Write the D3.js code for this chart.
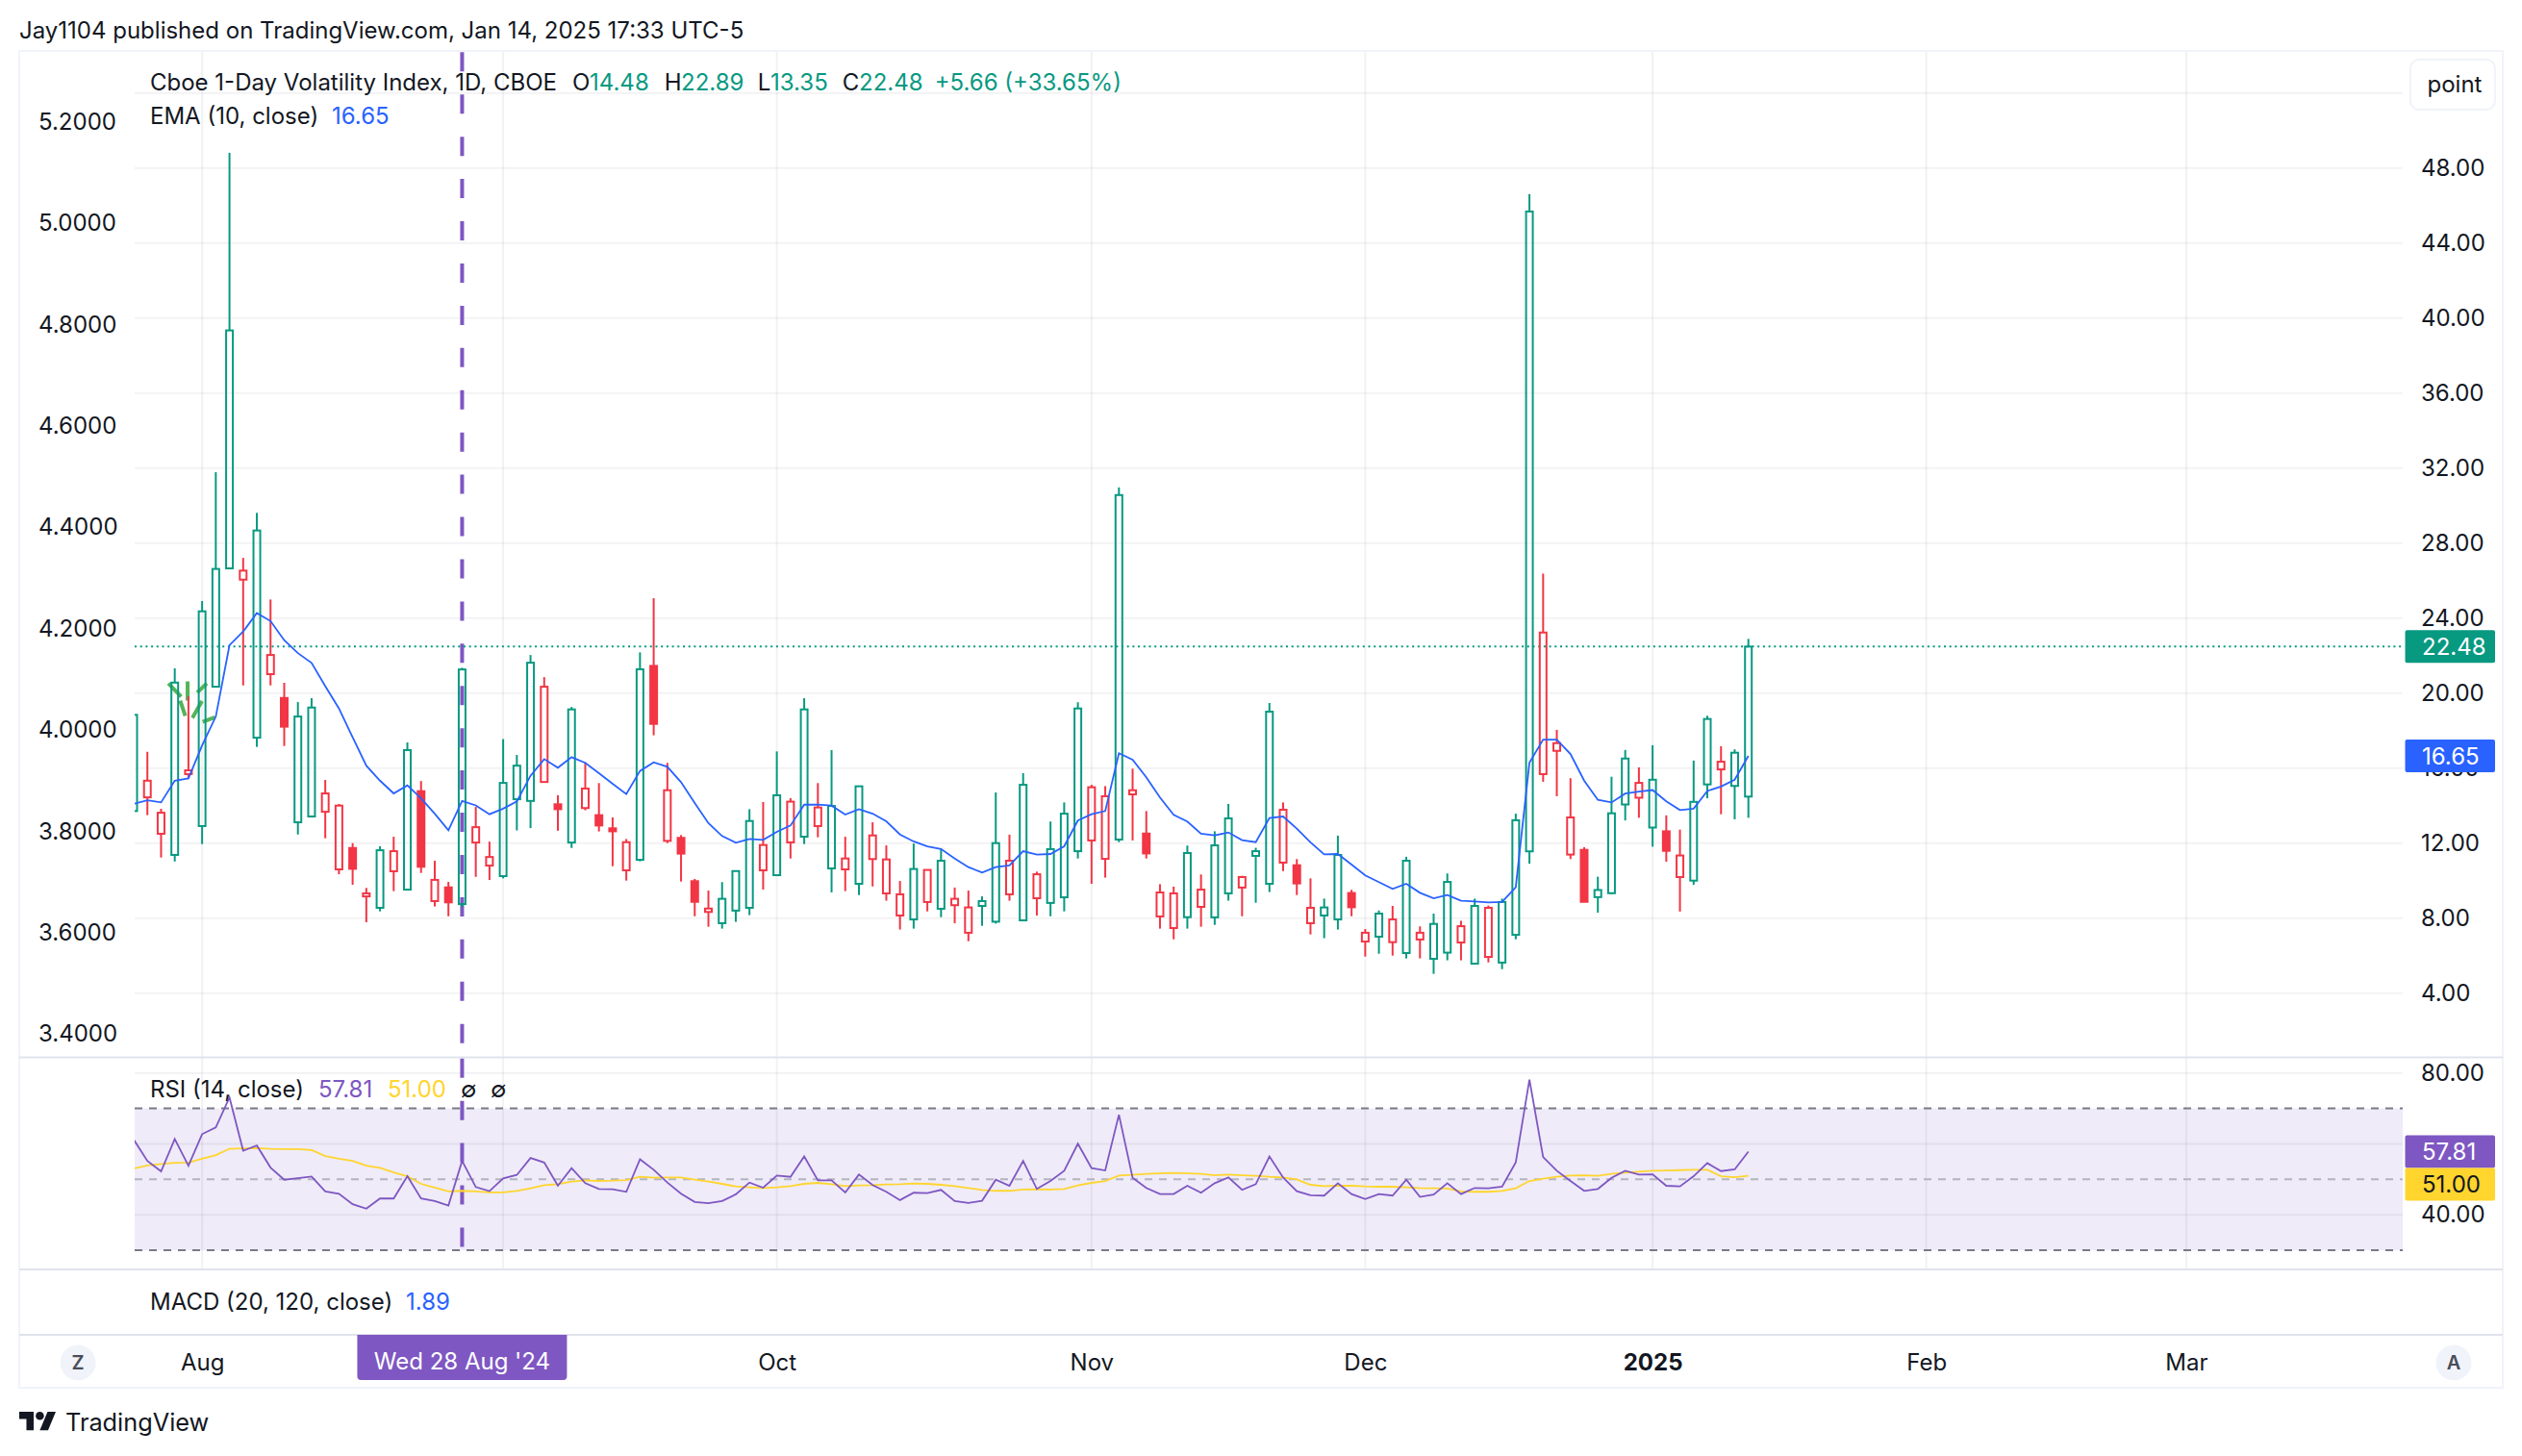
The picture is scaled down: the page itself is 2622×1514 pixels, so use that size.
<!DOCTYPE html>
<html>
<head>
<meta charset="utf-8">
<script src="https://cdn.jsdelivr.net/npm/d3@7"></script>
<style>
  html, body { margin: 0; padding: 0; background: #fff; }
  text { font-family: Inter, "Noto Sans", sans-serif; fill: #131722; }
</style>
</head>
<body>
<svg id="chart" width="2622" height="1514"></svg>
<script>
const opens = [13.71,14.44,12.50,11.37,15.68,12.91,20.34,26.65,26.05,17.62,
  21.01,19.74,13.11,13.42,13.67,10.60,11.74,9.16,8.55,10.50,
  9.52,14.77,8.91,9.64,8.75,12.03,10.80,10.24,14.34,14.25,
  15.26,14.07,12.03,13.87,13.49,12.79,10.55,11.11,21.45,12.12,
  12.28,9.97,8.33,7.73,8.40,8.55,10.55,10.29,12.04,12.34,
  12.91,10.65,10.60,9.83,11.15,9.32,8.14,7.93,8.86,8.50,
  8.69,7.22,8.65,7.81,9.27,7.88,9.06,8.81,9.11,11.57,
  12.14,11.16,12.19,14.60,12.51,8.09,7.47,8.05,8.60,8.04,
  9.32,9.63,11.32,9.83,10.96,10.82,7.73,8.14,7.93,9.34,
  6.75,7.01,6.72,6.14,6.86,5.83,6.16,6.70,5.57,5.93,
  5.63,7.11,11.56,15.68,16.92,11.39,11.64,9.12,9.33,14.06,
  14.42,12.83,12.63,10.19,10.00,15.13,15.93,15.05,14.48];
const highs = [18.90,16.87,13.83,21.32,19.83,24.91,31.78,48.81,27.21,29.61,
  24.99,20.55,19.52,19.73,15.37,14.09,12.00,9.61,11.83,12.34,
  17.37,15.31,11.06,9.93,21.35,13.93,12.08,17.55,16.70,22.03,
  20.85,14.55,19.26,16.31,15.20,13.37,12.22,22.17,25.06,16.28,
  12.43,10.09,9.47,9.92,10.55,13.81,14.19,16.89,14.40,19.73,
  15.20,16.96,12.34,15.03,13.11,11.88,9.98,11.98,10.58,11.69,
  9.63,9.47,9.16,14.70,12.45,15.73,10.48,13.15,14.17,19.51,
  15.11,15.04,30.97,15.97,13.71,9.81,9.68,11.87,10.33,12.63,
  14.09,10.26,11.75,19.47,14.17,11.15,10.12,9.04,12.40,9.51,
  7.42,8.41,8.65,11.27,7.56,8.24,10.38,7.86,9.04,8.67,
  9.04,13.57,46.61,26.37,18.04,15.46,11.78,10.21,15.54,16.97,
  16.04,17.22,13.48,12.72,16.40,18.79,17.17,17.00,22.89];
const lows = [13.70,13.49,11.23,11.02,15.42,11.95,20.34,26.65,20.41,17.13,
  20.41,17.18,12.46,13.42,12.26,10.34,9.78,7.78,8.36,9.44,
  9.52,10.41,8.62,8.10,8.58,10.20,10.03,10.12,12.68,12.80,
  15.26,12.66,11.74,13.75,12.62,10.77,10.00,11.03,17.75,12.00,
  9.95,8.10,7.54,7.44,7.80,8.16,9.52,10.29,11.18,11.95,
  12.31,9.37,9.44,9.23,9.69,8.93,7.39,7.44,8.36,8.05,
  7.73,6.77,7.59,7.71,8.93,7.88,8.14,8.10,8.36,11.18,
  9.83,10.16,12.05,12.14,11.18,7.44,6.87,7.44,7.54,7.64,
  8.93,8.10,8.82,9.39,10.51,9.23,7.13,6.93,7.39,8.10,
  5.95,6.10,6.00,5.85,5.85,5.03,5.75,5.75,5.57,5.64,
  5.28,6.87,10.90,15.27,14.50,11.15,8.87,8.29,9.28,13.21,
  13.35,11.81,11.01,8.35,9.78,14.39,13.54,13.27,13.35];
const closes = [18.84,15.33,13.62,20.56,15.88,24.36,26.62,39.34,26.53,28.67,
  22.03,18.21,18.75,19.23,14.65,14.00,10.63,9.32,11.62,11.57,
  16.96,10.74,10.04,8.84,21.26,12.85,11.26,15.21,16.13,21.62,
  20.34,13.81,19.13,14.91,12.94,12.63,12.05,21.27,18.36,14.82,
  11.44,8.87,8.51,9.03,10.51,13.18,11.90,14.55,14.21,19.13,
  13.90,13.98,11.18,15.03,12.41,11.13,9.27,10.62,10.57,11.06,
  9.03,8.57,8.91,12.00,11.06,15.11,10.34,11.68,13.57,19.18,
  14.98,14.50,30.56,14.82,11.45,9.37,9.32,11.47,9.52,11.88,
  13.32,10.19,11.57,19.01,13.78,9.85,8.55,8.57,11.37,8.58,
  7.22,8.24,7.93,11.06,7.22,7.69,9.93,7.57,8.65,8.55,
  8.86,13.22,45.68,23.23,17.33,13.37,8.87,9.50,13.59,16.51,
  15.21,15.38,11.59,11.34,14.20,18.62,16.34,16.82,22.48];
const ema = [14.09,14.29,14.17,15.33,15.45,17.21,18.75,22.55,23.28,24.27,
  23.84,22.82,22.13,21.61,20.37,19.18,17.64,16.13,15.33,14.65,
  15.08,14.39,13.57,12.68,14.25,14.01,13.54,13.84,14.22,15.59,
  16.48,16.02,16.58,16.28,15.73,15.16,14.62,15.85,16.31,16.07,
  15.25,14.14,13.06,12.38,12.02,12.22,12.17,12.60,12.94,14.05,
  14.05,14.00,13.52,13.81,13.57,13.16,12.46,12.09,11.83,11.69,
  11.18,10.72,10.43,10.72,10.81,11.57,11.39,11.42,11.83,13.20,
  13.54,13.71,16.79,16.45,15.51,14.43,13.51,13.15,12.50,12.41,
  12.57,12.16,12.05,13.34,13.42,12.77,12.04,11.40,11.42,10.86,
  10.28,9.92,9.56,9.83,9.35,9.06,9.23,8.93,8.89,8.84,
  8.86,9.64,16.29,17.52,17.52,16.75,15.33,14.31,14.17,14.64,
  14.75,14.83,14.23,13.76,13.84,14.78,15.02,15.38,16.65];
const rsi = [61.22,55.20,52.24,61.40,53.86,62.75,64.64,73.08,58.08,59.52,
  53.32,49.90,50.35,50.80,46.58,45.95,42.98,41.73,44.60,44.60,
  50.89,44.60,43.88,42.62,55.20,47.83,46.67,50.26,51.25,56.01,
  54.75,48.19,53.14,48.91,47.30,47.21,46.49,55.65,52.69,49.09,
  45.95,43.61,43.25,43.88,45.77,49.09,47.65,51.07,50.71,56.46,
  49.72,49.72,46.31,51.34,48.37,46.49,44.15,46.22,46.13,47.03,
  43.88,43.34,43.97,49.90,48.19,55.20,47.30,49.54,52.42,60.05,
  53.14,52.51,68.23,50.44,47.57,45.86,45.86,48.19,46.22,48.91,
  50.53,47.03,48.64,56.46,50.53,46.67,45.50,45.41,48.91,45.86,
  44.42,45.86,45.41,49.90,45.05,45.68,48.91,45.86,47.57,47.48,
  47.92,54.75,78.11,56.28,52.42,49.54,46.76,47.30,50.44,52.42,
  51.34,51.43,48.19,48.01,50.89,54.57,52.33,52.80,57.81];
const rsiMa = [53.05,53.94,54.30,54.66,54.75,55.83,56.82,58.62,58.71,58.80,
  58.62,58.53,58.53,58.26,56.55,55.83,55.20,53.86,53.23,51.97,
  50.89,48.73,47.65,46.58,46.76,46.58,46.31,46.31,46.76,47.48,
  48.37,48.64,49.36,49.72,49.54,49.63,49.81,50.71,50.44,50.53,
  50.53,49.90,49.36,48.73,48.01,47.75,47.57,47.75,48.10,48.73,
  49.00,48.64,48.10,48.28,48.37,48.55,48.64,48.82,48.73,48.46,
  48.10,47.57,47.03,46.76,46.76,47.12,47.21,47.12,47.30,48.28,
  49.00,49.54,51.07,51.25,51.52,51.70,51.79,51.70,51.52,51.16,
  51.34,51.16,50.98,50.71,50.53,49.99,48.46,48.10,48.19,48.19,
  48.01,47.92,47.92,47.75,47.57,47.48,47.39,46.58,46.49,46.49,
  46.76,47.48,49.54,50.17,50.71,51.07,51.16,50.98,51.52,51.88,
  52.15,52.42,52.51,52.60,52.69,52.69,50.89,50.60,51.00];

// the short green dashes on the left scale: bar index and value at both ends
const leftDashes = [[2.53,4.092,3.47,4.066],[3.40,4.058,3.77,4.028],[3.94,4.096,3.94,4.058],
  [4.29,4.024,4.99,4.057],[4.64,4.074,5.34,4.092],[5.04,4.016,5.93,4.025]];

const priceGrid = [52,48,44,40,36,32,28,24,20,16,12,8,4];
const priceTicks = [48,44,40,36,32,28,24,20,16,12,8,4];
const leftTicks = [5.2,5.0,4.8,4.6,4.4,4.2,4.0,3.8,3.6,3.4];
const rsiGrid = [80,60,40];
const rsiTicks = [80,40];
const rsiBands = [70,30];
const rsiMiddle = 50;
const monthGrid = [5,27,47,70,90,111,131,150];
const monthTicks = [5,47,70,90,111,131,150];
const monthNames = ["Aug","Oct","Nov","Dec","2025","Feb","Mar"];
const markedBar = 24;
const markedLabel = "Wed 28 Aug '24";

const GREEN = "#089981", RED = "#f23645", BLUE = "#2962ff", PURPLE = "#7e57c2", YELLOW = "#ffd52e";
const plotLeft = 140, plotRight = 2498, frameLeft = 20, frameRight = 2602;
const mainTop = 54, mainBottom = 1099, rsiTop = 1099.5, rsiBottom = 1320, macdBottom = 1388, frameBottom = 1443;
const FS = 24;

const svg = d3.select("#chart");
const x = d3.scaleLinear().domain([0,118]).range([139,1817.7]);
const y = d3.scaleLinear().domain([24,4]).range([642.7,1032.7]);
const yLeft = d3.scaleLinear().domain([5.2,3.4]).range([126.7,1075.3]);
const yRsi = d3.scaleLinear().domain([80,40]).range([1115.7,1263.2]);

svg.append("defs").append("clipPath").attr("id","plot")
  .append("rect").attr("x",plotLeft).attr("y",mainTop).attr("width",plotRight-plotLeft).attr("height",rsiBottom-mainTop);

function hLine(g, yv, x1, x2, color, w, dash) {
  return g.append("line").attr("x1",x1).attr("x2",x2).attr("y1",yv).attr("y2",yv)
    .attr("stroke",color).attr("stroke-width",w).attr("stroke-dasharray",dash || null);
}

// grid
const grid = svg.append("g");
grid.append("rect").attr("x",plotLeft).attr("width",plotRight-plotLeft)
  .attr("y",yRsi(rsiBands[0])).attr("height",yRsi(rsiBands[1])-yRsi(rsiBands[0]))
  .attr("fill",PURPLE).attr("fill-opacity",0.12);
priceGrid.forEach(d => hLine(grid, y(d), plotLeft, plotRight, "#f3f3f5", 2));
rsiGrid.forEach(d => hLine(grid, yRsi(d), plotLeft, plotRight, "#787b86", 2).attr("stroke-opacity",0.1));
monthGrid.forEach(d => grid.append("line").attr("x1",x(d)).attr("x2",x(d)).attr("y1",mainTop).attr("y2",rsiBottom)
  .attr("stroke","#787b86").attr("stroke-opacity",0.1).attr("stroke-width",2));

// frame and pane dividers
const frame = svg.append("g");
frame.append("rect").attr("x",frameLeft).attr("y",mainTop-1).attr("width",frameRight-frameLeft).attr("height",frameBottom-mainTop+1)
  .attr("fill","none").attr("stroke","#f0f3fa").attr("stroke-width",2);
[rsiTop,rsiBottom,macdBottom].forEach(d => hLine(frame, d, frameLeft, frameRight, "#e0e3eb", 2));

// rsi bands
rsiBands.forEach(d => hLine(grid, yRsi(d), plotLeft, plotRight, "#787b86", 2, "8 7"));
hLine(grid, yRsi(rsiMiddle), plotLeft, plotRight, "#b2b5be", 2, "8 7");

const clipped = svg.append("g").attr("clip-path","url(#plot)");

// marked date, broken into one run per pane
[[54.3,mainBottom],[1100.7,rsiBottom]].forEach(r => clipped.append("line")
  .attr("x1",x(markedBar)).attr("x2",x(markedBar)).attr("y1",r[0]).attr("y2",r[1])
  .attr("stroke",PURPLE).attr("stroke-width",4).attr("stroke-dasharray","20 23.93"));

// left scale dashes
clipped.selectAll("line.dash").data(leftDashes).enter().append("line").attr("class","dash")
  .attr("x1",d => x(d[0])).attr("y1",d => yLeft(d[1])).attr("x2",d => x(d[2])).attr("y2",d => yLeft(d[3]))
  .attr("stroke","#4caf50").attr("stroke-opacity",0.95).attr("stroke-width",4);

// last price line
hLine(clipped, y(closes[118]), plotLeft, plotRight, GREEN, 2, "2 3.7");

// candles
const bars = closes.map((c,i) => ({i, o:opens[i], h:highs[i], l:lows[i], c,
  color: i === 0 || c >= closes[i-1] ? GREEN : RED, filled: c < opens[i]}));
const candle = clipped.selectAll("g.candle").data(bars).enter().append("g").attr("class","candle");
candle.append("line").attr("x1",d => x(d.i)).attr("x2",d => x(d.i))
  .attr("y1",d => y(d.h)).attr("y2",d => y(Math.max(d.o,d.c)))
  .attr("stroke",d => d.color).attr("stroke-width",2);
candle.append("line").attr("x1",d => x(d.i)).attr("x2",d => x(d.i))
  .attr("y1",d => y(Math.min(d.o,d.c))).attr("y2",d => y(d.l))
  .attr("stroke",d => d.color).attr("stroke-width",2);
candle.append("rect").attr("x",d => x(d.i)-3.5).attr("width",7)
  .attr("y",d => y(Math.max(d.o,d.c))).attr("height",d => y(Math.min(d.o,d.c))-y(Math.max(d.o,d.c)))
  .attr("fill",d => d.filled ? d.color : "none").attr("stroke",d => d.color).attr("stroke-width",2);

// indicator lines
const lineOf = sc => d3.line().x((d,i) => x(i)).y(d => sc(d));
clipped.append("path").attr("d",lineOf(y)(ema)).attr("fill","none").attr("stroke",BLUE).attr("stroke-width",1.8);
clipped.append("path").attr("d",lineOf(yRsi)(rsiMa)).attr("fill","none").attr("stroke",YELLOW).attr("stroke-width",1.8);
clipped.append("path").attr("d",lineOf(yRsi)(rsi)).attr("fill","none").attr("stroke",PURPLE).attr("stroke-width",1.8);

// axes
function styleAxis(g) {
  g.select(".domain").remove();
  g.attr("font-family",null).attr("font-size",null);
  g.selectAll("text").attr("font-size",FS).style("fill","#131722");
}
svg.append("g").attr("transform","translate(2517,0)")
  .call(d3.axisRight(y).tickValues(priceTicks).tickFormat(d3.format(".2f")).tickSize(0).tickPadding(0)).call(styleAxis);
svg.append("g").attr("transform","translate(2517,0)")
  .call(d3.axisRight(yRsi).tickValues(rsiTicks).tickFormat(d3.format(".2f")).tickSize(0).tickPadding(0)).call(styleAxis);
svg.append("g").attr("transform","translate(40,0)")
  .call(d3.axisLeft(yLeft).tickValues(leftTicks).tickFormat(d3.format(".4f")).tickSize(0).tickPadding(0)).call(styleAxis)
  .selectAll("text").attr("text-anchor","start");
svg.append("g").attr("transform","translate(0,1416.5)")
  .call(d3.axisBottom(x).tickValues(monthTicks).tickFormat((d,i) => monthNames[i]).tickSize(0).tickPadding(0)).call(styleAxis)
  .selectAll("text").attr("dy","0.36em").attr("font-weight",d => d === 111 ? 700 : 400);

// price tags
function tag(label, yc, color, textColor) {
  svg.append("rect").attr("x",2500.5).attr("y",yc-17).attr("width",93.5).attr("height",34).attr("rx",2).attr("fill",color);
  svg.append("text").attr("x",2518).attr("y",yc).attr("dy","0.36em").attr("font-size",FS).style("fill",textColor).text(label);
}
tag(closes[118].toFixed(2), y(closes[118]), GREEN, "#fff");
tag(ema[118].toFixed(2), y(ema[118]), BLUE, "#fff");
tag(rsi[118].toFixed(2), yRsi(rsi[118]), PURPLE, "#fff");
tag(rsiMa[118].toFixed(2), yRsi(rsi[118])+34, YELLOW, "#131722");

// marked date label
const mx = x(markedBar);
svg.append("path").attr("d",`M${mx-109},1388H${mx+109}V1431a4,4 0 0 1 -4,4H${mx-105}a4,4 0 0 1 -4,-4Z`).attr("fill",PURPLE);
svg.append("text").attr("x",mx).attr("y",1415.5).attr("dy","0.36em").attr("text-anchor","middle")
  .attr("font-size",FS).style("fill","#fff").text(markedLabel);

// legends
function label(txt, xp, yp, color, size) {
  svg.append("text").attr("x",xp).attr("y",yp).attr("dy","0.36em").attr("font-size",size || FS)
    .style("fill",color || "#131722").text(txt);
}
label("Jay1104 published on TradingView.com, Jan 14, 2025 17:33 UTC-5", 20, 31.5);
label("Cboe 1-Day Volatility Index, 1D, CBOE", 156, 85.5);
label("O", 595, 85.5); label(opens[118].toFixed(2), 613, 85.5, GREEN);
label("H", 690.7, 85.5); label(highs[118].toFixed(2), 708, 85.5, GREEN);
label("L", 787.7, 85.5); label(lows[118].toFixed(2), 801, 85.5, GREEN);
label("C", 875.7, 85.5); label(closes[118].toFixed(2), 893, 85.5, GREEN);
label("+5.66 (+33.65%)", 971.7, 85.5, GREEN);
label("EMA (10, close)", 156, 120); label(ema[118].toFixed(2), 345, 120, BLUE);
label("RSI (14, close)", 156, 1132.2); label(rsi[118].toFixed(2), 331, 1132.2, PURPLE);
label(rsiMa[118].toFixed(2), 403, 1132.2, YELLOW);
label("∅", 479, 1132.2); label("∅", 510, 1132.2);
label("MACD (20, 120, close)", 156, 1353); label("1.89", 422, 1353, BLUE);

// point box
svg.append("rect").attr("x",2506).attr("y",62).attr("width",88).attr("height",52).attr("rx",9)
  .attr("fill","#fff").attr("stroke","#f0f3fa").attr("stroke-width",2);
svg.append("text").attr("x",2552).attr("y",87).attr("dy","0.36em").attr("text-anchor","middle").attr("font-size",FS).text("point");

// Z and A buttons
[[81,"Z"],[2551,"A"]].forEach(d => {
  svg.append("circle").attr("cx",d[0]).attr("cy",1417).attr("r",18.5).attr("fill","#f0f3fa");
  svg.append("text").attr("x",d[0]).attr("y",1417).attr("dy","0.36em").attr("text-anchor","middle")
    .attr("font-size",20).attr("font-weight",600).style("fill","#4a4d58").text(d[1]);
});

// TradingView logo
const logo = svg.append("g").attr("transform","translate(20,1463.7) scale(1.07)").attr("fill","#131722");
logo.append("path").attr("d","M14 22H7V11H0V4h14v18zM28 22h-8l7.5-18h8L28 22z");
logo.append("circle").attr("cx",20).attr("cy",8).attr("r",4);
svg.append("text").attr("x",68).attr("y",1479).attr("dy","0.36em").attr("font-size",25.3).text("TradingView");
</script>
</body>
</html>
